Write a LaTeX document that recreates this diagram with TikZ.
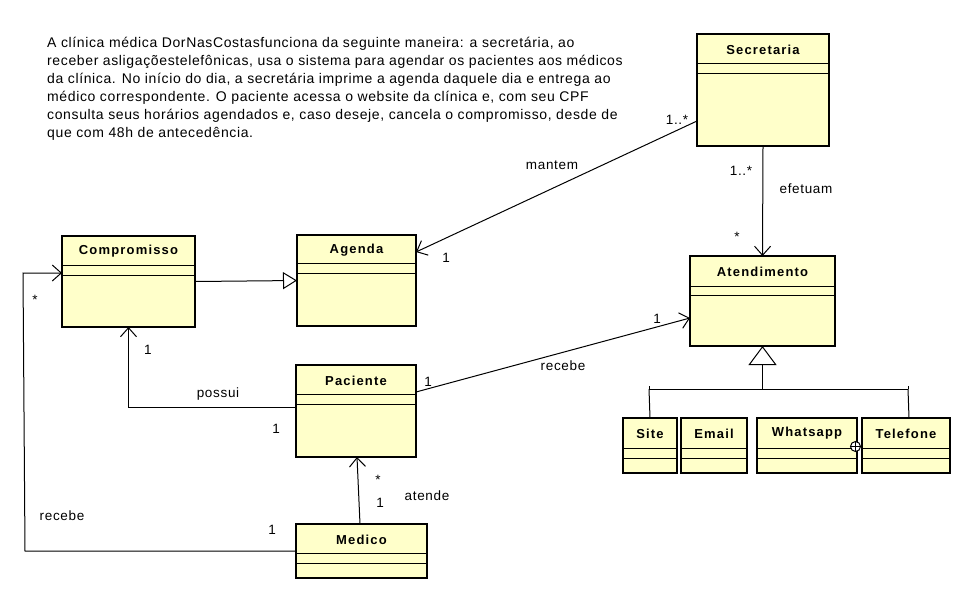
\documentclass[tikz,border=0pt]{standalone}
\usepackage{fontspec}
\setmainfont{Liberation Sans}
\usetikzlibrary{arrows.meta,calc}
\definecolor{clsfill}{RGB}{255,255,202}
\newcommand\umlclass[8]{%
  \node[clsbox, minimum width=#4pt, minimum height=#5pt] (#1) at (#2,#3) {};
  \node[clstitle] (#1-t) at ($(#1.north)+(0,15.5)$) {#6};
  \draw[clsline] ($(#1.north west)+(0,#7)$) -- ($(#1.north east)+(0,#7)$);
  \draw[clsline] ($(#1.north west)+(0,#8)$) -- ($(#1.north east)+(0,#8)$);
}
\tikzset{
  clsbox/.style={draw=black, line width=2.8pt, fill=clsfill, rectangle, outer sep=0pt, inner sep=0pt},
  clstitle/.style={font=\addfontfeature{LetterSpace=9}\fontsize{13}{15}\bfseries, inner sep=0pt},
  clsline/.style={line width=1pt},
  assoc/.style={line width=1pt, -{Straight Barb[length=9pt,width=16pt,line width=1pt]}},
  plain/.style={line width=1pt},
  gensmall/.style={line width=1pt, -{Triangle[open,length=14pt,width=17pt,fill=white,line width=1pt]}},
  genbig/.style={line width=1pt, -{Triangle[open,length=19pt,width=28pt,fill=white,line width=1pt]}},
  lbl/.style={font=\addfontfeature{LetterSpace=5}\fontsize{13.5}{15}\selectfont, inner sep=0pt},
  desc/.style={font=\addfontfeature{LetterSpace=4.5}\fontsize{14}{16}\selectfont, inner sep=0pt, anchor=base west},
}
\begin{document}
\begin{tikzpicture}[x=1pt,y=-1pt]
\useasboundingbox[fill=white] (0,0) rectangle (960,614);
% description
\node[desc] (d1) at (47,47) {A clínica médica DorNasCostasfunciona da seguinte maneira: a secretária, ao};
\node[desc] (d2) at (47,65) {receber asligaçõestelefônicas, usa o sistema para agendar os pacientes aos médicos};
\node[desc] (d3) at (47,83) {da clínica. No início do dia, a secretária imprime a agenda daquele dia e entrega ao};
\node[desc] (d4) at (47,101) {médico correspondente. O paciente acessa o website da clínica e, com seu CPF};
\node[desc] (d5) at (47,119) {consulta seus horários agendados e, caso deseje, cancela o compromisso, desde de};
\node[desc] (d6) at (47,137) {que com 48h de antecedência.};
% classes
\umlclass{sec}{763}{90}{132}{112}{Secretaria}{29}{39}
\umlclass{ate}{762.5}{301}{145}{90}{Atendimento}{30}{39}
\umlclass{comp}{128.5}{281.5}{133}{91}{Compromisso}{29}{39}
\umlclass{age}{356.5}{280.5}{119}{91}{Agenda}{28}{38}
\umlclass{pac}{356}{411}{120}{92}{Paciente}{29}{39}
\umlclass{med}{361.5}{551}{131}{54}{Medico}{29}{39}
\umlclass{site}{650}{445.5}{54}{55}{Site}{30}{40}
\umlclass{email}{714}{445.5}{66}{55}{Email}{30}{40}
\umlclass{wha}{807}{445.5}{100}{55}{Whatsapp}{30}{40}
\umlclass{tel}{906}{445.5}{88}{55}{Telefone}{30}{40}
% associations
\draw[assoc] ($(sec.west)+(0,31)$) -- ($(age.east)+(0,-28.5)$);
\draw[assoc] (sec.south) -- (ate.north);
\draw[gensmall] (comp.east) -- (age.west);
\draw[assoc] ($(pac.west)+(0,-3.5)$) -| (comp.south);
\draw[assoc] ($(pac.east)+(0,-19)$) -- ($(ate.west)+(0,17)$);
\draw[assoc] ($(med.north)+(-1.5,0)$) -- ($(pac.south)+(1,0)$);
\coordinate (mb) at (25,551);
\coordinate (mt) at (23,273);
\draw[assoc] (med.west) -- (mb) -- (mt) -- ($(comp.west)+(0,-8.5)$);
% generalization tree
\coordinate (jc) at (762.5,389);
\coordinate (jl) at (649,389);
\coordinate (jr) at (908,389);
\draw[genbig] (jc) -- (ate.south);
\draw[plain] (jl) -- (jr);
\draw[plain] (jl) -- (site.north);
\draw[plain] (jr) -- ($(tel.north)+(3,0)$);
\draw[plain] (jl) -- ++(0,-3);
\draw[plain] (jr) -- ++(0,-3);
% nesting
\node[draw, circle, line width=1pt, fill=white, minimum size=10pt, inner sep=0pt] (nest) at (855.5,446.5) {};
\draw[line width=0.8pt] (nest.north) -- (nest.south) (nest.west) -- (nest.east);
% labels
\node[lbl] (l1) at (552,165) {mantem};
\node[lbl] (l2) at (677,120) {1..*};
\node[lbl] (l3) at (446,258) {1};
\node[lbl] (l4) at (741,171) {1..*};
\node[lbl] (l5) at (806,189) {efetuam};
\node[lbl] (l6) at (737,237) {*};
\node[lbl] (l7) at (148,350) {1};
\node[lbl] (l8) at (218,394) {possui};
\node[lbl] (l9) at (276,429) {1};
\node[lbl] (l10) at (428,382) {1};
\node[lbl] (l11) at (563,366) {recebe};
\node[lbl] (l12) at (657,319) {1};
\node[lbl] (l13) at (378,480) {*};
\node[lbl] (l14) at (380,503) {1};
\node[lbl] (l15) at (427,496) {atende};
\node[lbl] (l16) at (62,516) {recebe};
\node[lbl] (l17) at (272,530) {1};
\node[lbl] (l18) at (35,300) {*};
\end{tikzpicture}
\end{document}
